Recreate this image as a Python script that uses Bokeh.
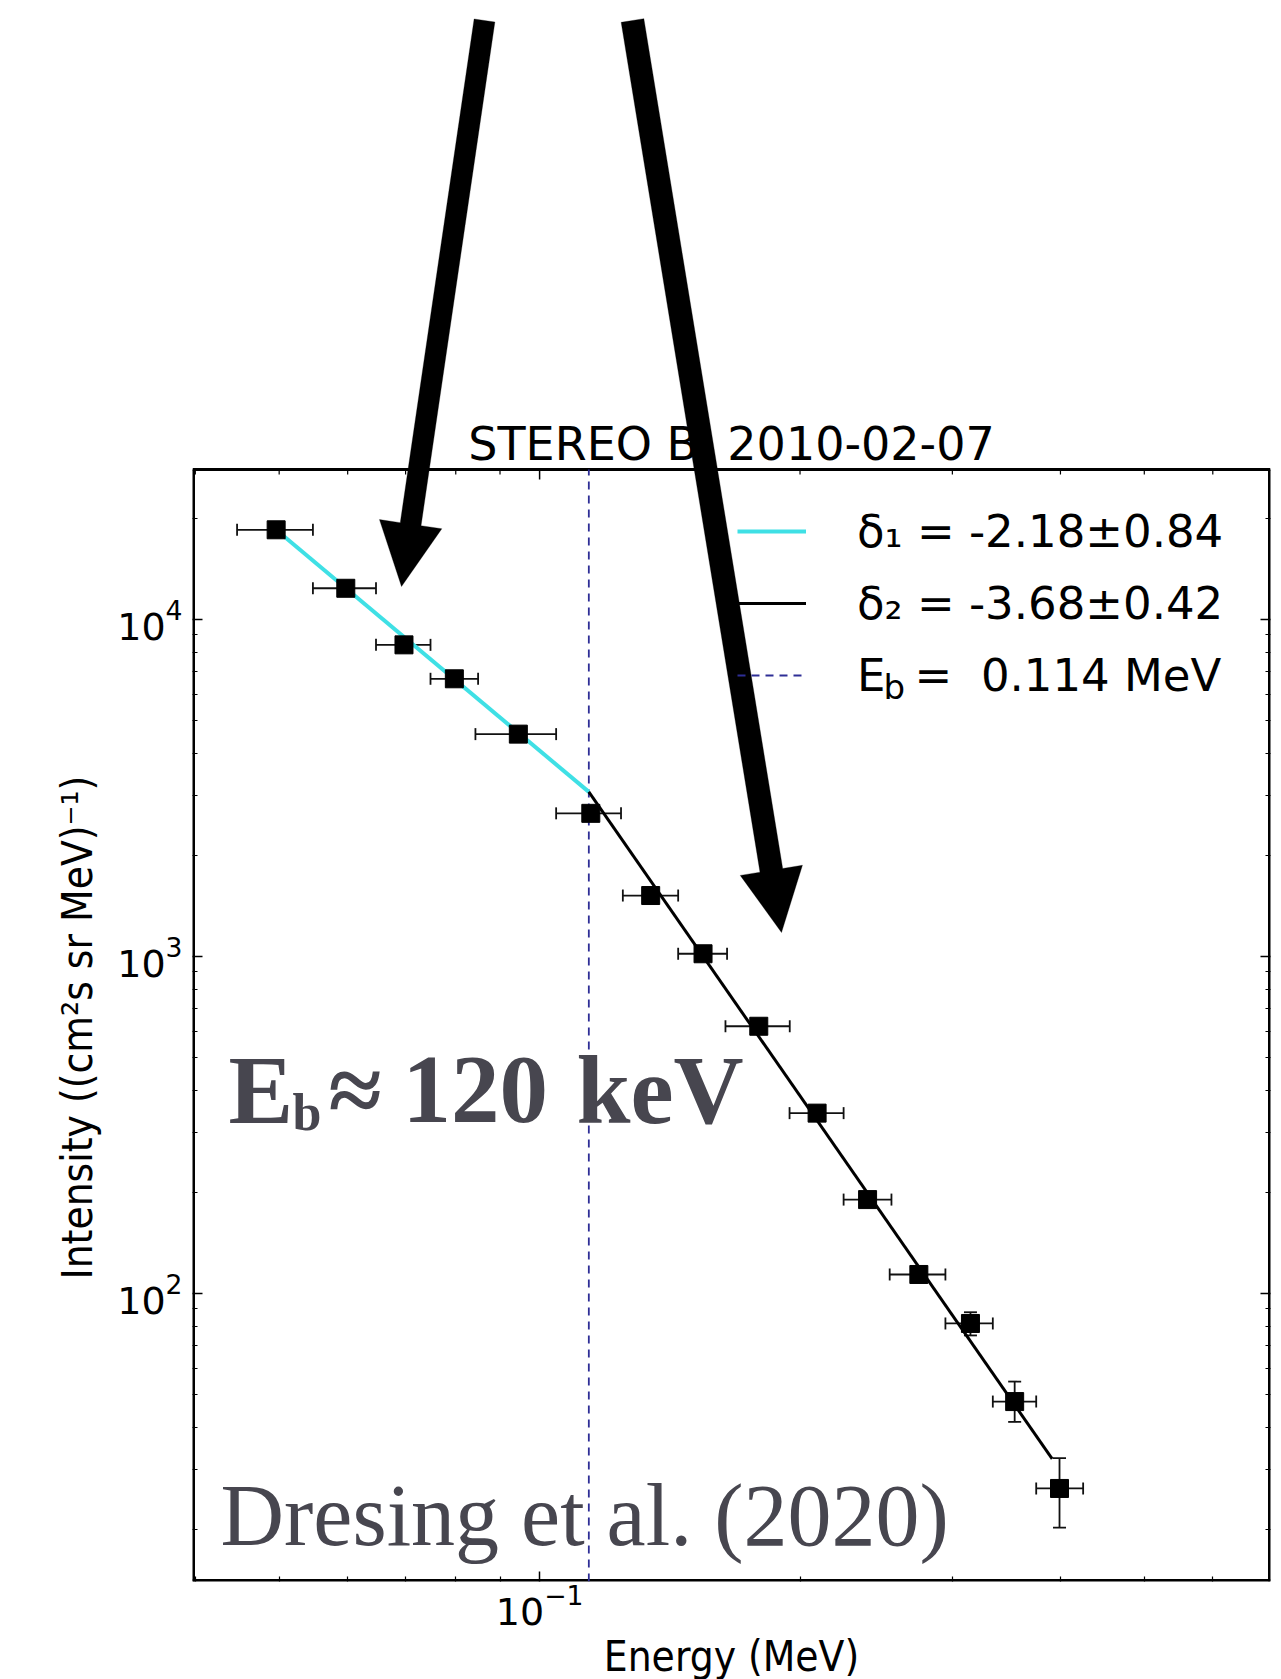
import math
from bokeh.plotting import figure
from bokeh.models import (ColumnDataSource, Whisker, TeeHead, FixedTicker, LogTickFormatter,
                          LogAxis, Label, PolyAnnotation, Legend, LegendItem, Title,
                          CustomJSTickFormatter, Range1d)
from bokeh.embed import file_html
from bokeh.resources import INLINE

# ---------------- data ----------------
energy = [0.0496, 0.0597, 0.0697, 0.0797, 0.0945, 0.1146, 0.1344, 0.1545,
          0.1792, 0.2093, 0.2394, 0.2744, 0.3148, 0.3541, 0.3990]
intensity = [18460, 12380, 8410, 6670, 4570, 2660, 1517, 1019,
             621, 343, 190, 113.9, 81.5, 47.8, 26.4]
energy_lo = [0.0447, 0.0547, 0.0647, 0.0748, 0.0843, 0.1045, 0.1248, 0.1446,
             0.1640, 0.1945, 0.2246, 0.2539, 0.2945, 0.3341, 0.3750]
energy_hi = [0.0547, 0.0647, 0.0748, 0.0849, 0.1045, 0.1242, 0.1446, 0.1647,
             0.1946, 0.2246, 0.2551, 0.2945, 0.3341, 0.3750, 0.4249]
intensity_lo = [18460, 12380, 8410, 6670, 4570, 2660, 1517, 1019,
                621, 343, 190, 113.9, 75.1, 41.6, 20.2]
intensity_hi = [18460, 12380, 8410, 6670, 4570, 2660, 1517, 1019,
                621, 343, 190, 113.9, 88.0, 54.8, 32.5]

fit1_energy = [0.0496, 0.114]
fit1_intensity = [18460, 3080]
fit2_energy = [0.114, 0.3913]
fit2_intensity = [3080, 32.3]
break_energy = 0.114

x_major_ticks = [0.1]
x_minor_ticks = [0.04, 0.05, 0.06, 0.07, 0.08, 0.09, 0.2, 0.3, 0.4, 0.5, 0.6]
y_major_ticks = [100, 1000, 10000]
y_minor_ticks = [20, 30, 40, 50, 60, 70, 80, 90,
                 200, 300, 400, 500, 600, 700, 800, 900,
                 2000, 3000, 4000, 5000, 6000, 7000, 8000, 9000, 20000]

legend_labels = ["δ₁ = -2.18±0.84", "δ₂ = -3.68±0.42", "E\u2004 =\u00a0 0.114 MeV"]
title_text = "STEREO B\u00a0 2010-02-07"
x_label = "Energy (MeV)"
y_label = "Intensity ((cm²s sr MeV)⁻¹)"

# ---------------- geometry (page pixels) ----------------
X_MIN, X_MAX = 0.0397, 0.6996
Y_MIN, Y_MAX = 13.98, 27870.0
W, H = 1281, 1679
FL, FW = 192, 1078                 # frame left / width
BOX_TOP, BOX_BOTTOM = 469, 1581    # axes box; the frame spans 0 .. BOX_BOTTOM
FH = BOX_BOTTOM
BASE = 0.31                        # baseline correction (fraction of font size)

lx0, lx1 = math.log10(X_MIN), math.log10(X_MAX)
ly0, ly1 = math.log10(Y_MIN), math.log10(Y_MAX)
lyT = ly1 + BOX_TOP / (BOX_BOTTOM - BOX_TOP) * (ly1 - ly0)
Y_TOP = 10 ** lyT


def dx(px):
    return 10 ** (lx0 + (px - FL) / FW * (lx1 - lx0))


def dy(py):
    return 10 ** (lyT - py / FH * (lyT - ly0))


p = figure(x_axis_type="log", y_axis_type="log",
           x_range=Range1d(X_MIN, X_MAX), y_range=Range1d(Y_MIN, Y_TOP),
           frame_width=FW, frame_height=FH,
           min_border_left=FL, min_border_top=0,
           min_border_right=W - FL - FW, min_border_bottom=H - FH,
           output_backend="svg", toolbar_location=None)

p.background_fill_color = "white"
p.border_fill_color = "white"
p.xgrid.visible = False
p.ygrid.visible = False
p.outline_line_color = None

p.xaxis[0].ticker = FixedTicker(ticks=x_major_ticks, minor_ticks=x_minor_ticks)
p.yaxis[0].ticker = FixedTicker(ticks=y_major_ticks, minor_ticks=y_minor_ticks)
p.xaxis[0].formatter = LogTickFormatter()
p.yaxis[0].formatter = LogTickFormatter()


def style_axis(ax):
    ax.axis_line_color = None
    ax.major_tick_in = 10
    ax.major_tick_out = 0
    ax.minor_tick_in = 5
    ax.minor_tick_out = 0
    ax.major_tick_line_width = 1.5
    ax.minor_tick_line_width = 1.2
    ax.major_tick_line_color = "black"
    ax.minor_tick_line_color = "black"
    ax.major_label_text_font = "DejaVu Sans"
    ax.major_label_text_font_size = "38px"
    ax.major_label_text_color = "black"
    ax.axis_label_text_font = "DejaVu Sans Condensed"
    ax.axis_label_text_font_size = "42px"
    ax.axis_label_text_font_style = "normal"
    ax.axis_label_text_color = "black"


style_axis(p.xaxis[0])
style_axis(p.yaxis[0])
p.xaxis[0].axis_label = x_label
p.xaxis[0].major_label_standoff = 2
p.xaxis[0].axis_label_standoff = 4
p.yaxis[0].major_label_standoff = 10

right_ax = LogAxis(ticker=FixedTicker(ticks=y_major_ticks, minor_ticks=y_minor_ticks),
                   formatter=CustomJSTickFormatter(code="return ''"))
style_axis(right_ax)
right_ax.major_label_text_font_size = "1px"
right_ax.major_label_standoff = 0
p.add_layout(right_ax, "right")

# y-axis label: a title in the left panel, aligned with the axes box
p.add_layout(Title(text=y_label, align="left", vertical_align="bottom",
                   offset=302, standoff=26,
                   text_font="DejaVu Sans Condensed", text_font_size="42px",
                   text_font_style="normal", text_color="black"), "left")

# axes box and top ticks
p.segment(x0=[X_MIN], y0=[Y_MAX], x1=[X_MAX], y1=[Y_MAX], line_color="black", line_width=3)
p.segment(x0=[X_MIN, X_MAX, X_MIN], y0=[Y_MIN, Y_MIN, Y_MIN],
          x1=[X_MIN, X_MAX, X_MAX], y1=[Y_MAX, Y_MAX, Y_MIN],
          line_color="black", line_width=5)
p.segment(x0=x_major_ticks, y0=[Y_MAX] * len(x_major_ticks),
          x1=x_major_ticks, y1=[dy(BOX_TOP + 10)] * len(x_major_ticks),
          line_color="black", line_width=1.5)
p.segment(x0=x_minor_ticks, y0=[Y_MAX] * len(x_minor_ticks),
          x1=x_minor_ticks, y1=[dy(BOX_TOP + 5)] * len(x_minor_ticks),
          line_color="black", line_width=1.2)

# title
p.add_layout(Label(x=dx(FL + FW / 2), y=dy(458 - BASE * 46), text=title_text,
                   text_font="DejaVu Sans", text_font_size="46px", text_color="black",
                   text_align="center", text_baseline="alphabetic"))

# ---------------- glyphs ----------------
l_eb = p.line([break_energy, break_energy], [Y_MIN, Y_MAX], line_color="#2e2e96",
              line_width=1.8, line_dash="8 6")
l1 = p.line(fit1_energy, fit1_intensity, line_color="#3fe0e5", line_width=4)
l2 = p.line(fit2_energy, fit2_intensity, line_color="black", line_width=3)

src = ColumnDataSource(dict(e=energy, i=intensity, elo=energy_lo, ehi=energy_hi,
                            ilo=intensity_lo, ihi=intensity_hi))
wx = Whisker(source=src, base="i", lower="elo", upper="ehi", dimension="width",
             line_color="#111111", line_width=1.8, level="underlay",
             upper_head=TeeHead(size=12, line_width=1.8, line_color="#111111"),
             lower_head=TeeHead(size=12, line_width=1.8, line_color="#111111"))
wy = Whisker(source=src, base="e", lower="ilo", upper="ihi", dimension="height",
             line_color="#111111", line_width=1.8, level="underlay",
             upper_head=TeeHead(size=13, line_width=1.8, line_color="#111111"),
             lower_head=TeeHead(size=13, line_width=1.8, line_color="#111111"))
p.add_layout(wx)
p.add_layout(wy)

p.scatter("e", "i", source=src, marker="square", size=18,
          fill_color="black", line_color="black")

# ---------------- legend ----------------
legend = Legend(items=[LegendItem(label=legend_labels[0], renderers=[l1]),
                       LegendItem(label=legend_labels[1], renderers=[l2]),
                       LegendItem(label=legend_labels[2], renderers=[l_eb])],
                location=(545, 879))
legend.border_line_color = None
legend.background_fill_alpha = 0
legend.label_text_font = "DejaVu Sans"
legend.label_text_font_size = "45px"
legend.label_text_color = "black"
legend.glyph_width = 69
legend.glyph_height = 54
legend.label_height = 54
legend.spacing = 18
legend.label_standoff = 51
legend.padding = 0
legend.margin = 0
p.add_layout(legend)

p.add_layout(Label(x=dx(883), y=dy(697 - BASE * 34), text="b", text_font="DejaVu Sans",
                   text_font_size="34px", text_color="black",
                   text_baseline="alphabetic", text_align="left"))

# ---------------- overlay texts ----------------
ink = "#47464f"


def overlay(px, py, txt, size, style="normal"):
    p.add_layout(Label(x=dx(px), y=dy(py - BASE * size), text=txt,
                       text_font="Liberation Serif", text_font_size=str(size) + "px",
                       text_font_style=style, text_color=ink,
                       text_baseline="alphabetic", text_align="left"))


overlay(228, 1120, "E", 97, "bold")
overlay(292, 1128, "b", 52, "bold")
overlay(328, 1120, "≈", 97, "bold")
overlay(402, 1120, "120", 97, "bold")
overlay(576, 1120, "keV", 97, "bold")
overlay(220, 1542, "Dresing et al. (2020)", 88)

# ---------------- arrows (polygons, page pixels -> data) ----------------
arrows = [  # (tail x, tail y, tip x, tip y, shaft width)
    (484, 20, 401, 586, 21),
    (632, 20, 781, 932, 23),
]
HEAD = 63
for (x0, y0, x1, y1, w) in arrows:
    L = math.hypot(x1 - x0, y1 - y0)
    ux, uy = (x1 - x0) / L, (y1 - y0) / L
    nx, ny = -uy, ux
    bx, by = x1 - HEAD * ux, y1 - HEAD * uy
    pts = [(x0 + nx * w / 2, y0 + ny * w / 2), (bx + nx * w / 2, by + ny * w / 2),
           (bx + nx * HEAD / 2, by + ny * HEAD / 2), (x1, y1),
           (bx - nx * HEAD / 2, by - ny * HEAD / 2), (bx - nx * w / 2, by - ny * w / 2),
           (x0 - nx * w / 2, y0 - ny * w / 2)]
    p.add_layout(PolyAnnotation(xs=[dx(a) for a, _ in pts], ys=[dy(b) for _, b in pts],
                                fill_color="black", fill_alpha=1.0,
                                line_color="black", line_width=1, level="overlay"))

open("out.html", "w").write(file_html(p, INLINE))
